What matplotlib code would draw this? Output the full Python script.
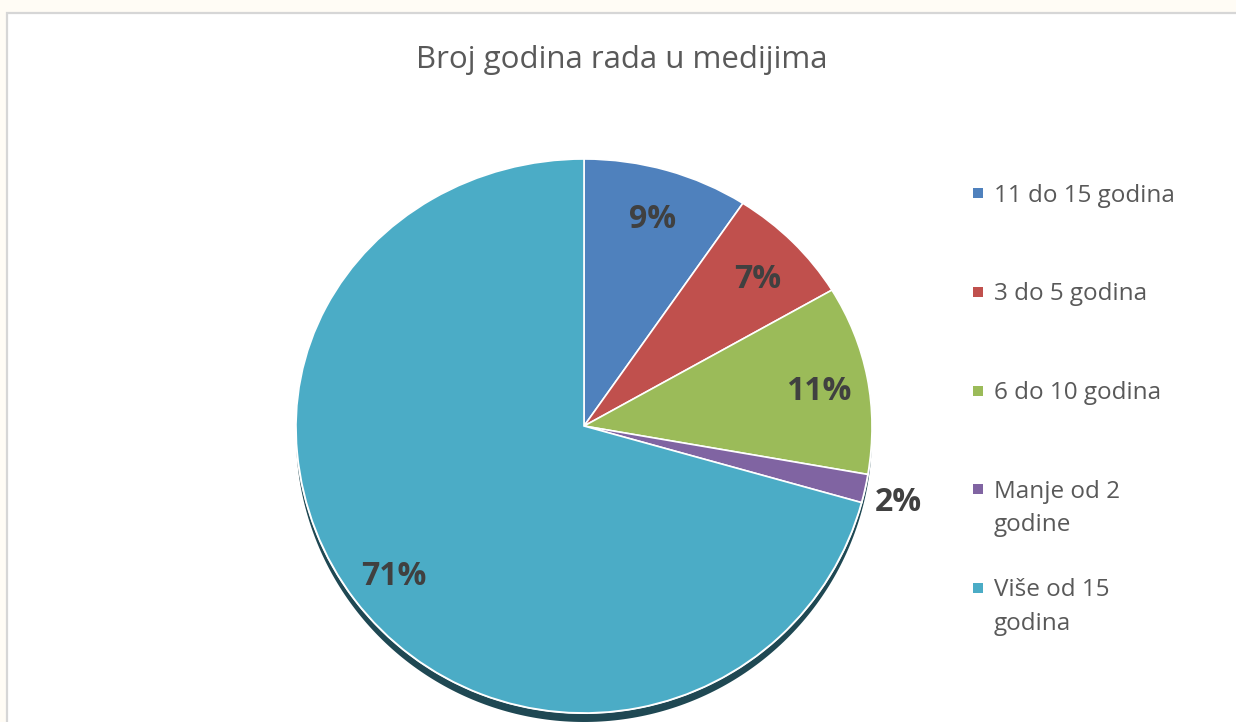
import numpy as np
import matplotlib
matplotlib.use("Agg")
import matplotlib.pyplot as plt
from matplotlib.path import Path
from matplotlib.patches import PathPatch, Rectangle

# data (shares in %)
kategorije = ["11 do 15 godina", "3 do 5 godina", "6 do 10 godina",
              "Manje od 2\ngodine", "Više od 15\ngodina"]
udjeli = [9.3, 7.2, 11.2, 1.6, 70.7]
boje = ["#4f81bd", "#c0504d", "#9bbb59", "#8064a2", "#4bacc6"]
naslov = "Broj godina rada u medijima"

W, H = 1236, 722
plt.rcParams['font.family'] = ['Open Sans', 'DejaVu Sans']

fig = plt.figure(figsize=(W / 100, H / 100), dpi=100)
fig.patch.set_facecolor("#fffcf5")

# chart area (white box with grey border on top/left)
fig.patches.append(Rectangle((6.5 / W, -0.05), 1.1, 1 - 12.5 / H + 0.05,
                             transform=fig.transFigure, facecolor="white",
                             edgecolor="#d6d6d6", lw=1.6, zorder=-5))

# pie axes: 1 data unit = 288 px in both directions
rx = 288.0
cx, cy = 584.0, 426.0
top_px, bot_px = 140.0, 722.0
ax = fig.add_axes([(cx - rx) / W, 0, 2 * rx / W, (bot_px - top_px) / H])
ax.axis("off")
ax.patch.set_visible(False)

k_gore = 267 / 288.0   # upper half looks flatter (perspective)
k_dolje = 287 / 288.0


def spljosti(xy):
    xy = np.array(xy, dtype=float).copy()
    xy[:, 1] = np.where(xy[:, 1] > 0, xy[:, 1] * k_gore, xy[:, 1] * k_dolje)
    return xy


wedges, texts, autotexts = ax.pie(
    udjeli, colors=boje, startangle=90, counterclock=False,
    autopct="%.0f%%", pctdistance=0.83,
    textprops=dict(color="#404040", fontsize=23, fontweight="bold"))
ax.set_xlim(-1, 1)
ax.set_ylim(-(bot_px - cy) / rx, (cy - top_px) / rx)
ax.set_aspect("auto")

# shadow under the pie
t = np.linspace(0, 2 * np.pi, 400)
krug = np.column_stack([np.cos(t), np.sin(t)])
sjena = spljosti(krug)
sjena[:, 1] -= 9 / rx
ax.add_patch(PathPatch(Path(sjena), facecolor="#1f4853", edgecolor="none", zorder=0.5))
ax.add_patch(PathPatch(Path(spljosti(krug)), facecolor="none", edgecolor="white",
                       lw=1.5, zorder=0.6))

for w in wedges:
    p = w.get_path()
    ax.add_patch(PathPatch(Path(spljosti(p.vertices), p.codes),
                           facecolor=w.get_facecolor(), edgecolor="white",
                           lw=1.2, zorder=1))
    w.set_visible(False)

for i, tx in enumerate(autotexts):
    x, y = tx.get_position()
    if udjeli[i] < 3:
        # small slice: label sits outside
        ang = np.arctan2(y, x)
        x, y = 1.12 * np.cos(ang), 1.12 * np.sin(ang)
    xy = spljosti([[x, y]])[0]
    xy[1] -= 6 / rx
    tx.set_position(xy)
    tx.set_zorder(3)

# title
fig.text(622 / W, 1 - 60 / H, naslov, ha="center", va="center",
         fontsize=22.5, color="#595959")

# legend, drawn by hand (Excel style spacing)
y_red = 201.7
for lab, c in zip(kategorije, boje):
    fig.patches.append(Rectangle((973 / W, 1 - (y_red - 3.5) / H), 10 / W, 10 / H,
                                 transform=fig.transFigure, facecolor=c,
                                 edgecolor="none"))
    for j, red in enumerate(lab.split("\n")):
        fig.text(994 / W, 1 - (y_red + 33 * j) / H, red, ha="left", va="baseline",
                 fontsize=17.5, color="#595959")
    y_red += 98.7

fig.savefig("out.png", dpi=100, facecolor=fig.get_facecolor())
